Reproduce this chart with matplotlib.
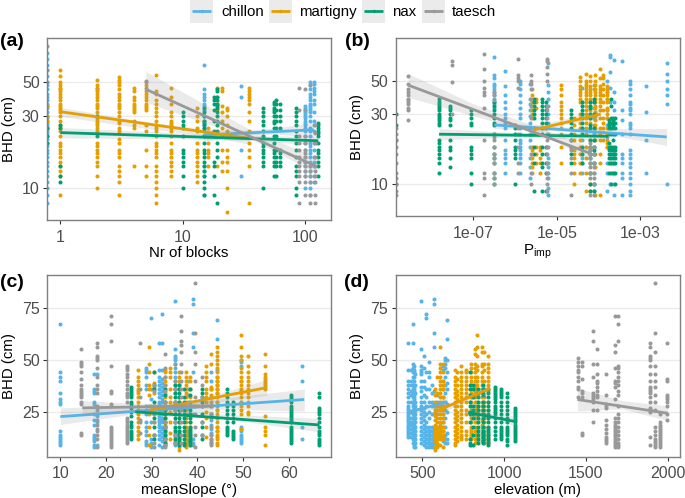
import matplotlib
matplotlib.use("Agg")
import matplotlib.pyplot as plt
from matplotlib.lines import Line2D
from matplotlib.patches import Rectangle

plt.rcParams['font.family'] = ['Liberation Sans', 'DejaVu Sans']
plt.rcParams['mathtext.fontset'] = 'custom'
plt.rcParams['mathtext.rm'] = 'Liberation Sans'

names = ['chillon', 'martigny', 'nax', 'taesch']
colors = {'chillon': '#56B4E9', 'martigny': '#E69F00', 'nax': '#009E73', 'taesch': '#999999'}

# ---- panel (a): Nr of blocks -> columns of BHD
a_chillon = {
 0.78: [8,9,10,11,12,13,14,15,16,17,18,19,20,21,22,23,24,25,26,27,28,29,30,32,34,35,36,38,40,42,45,48,50,55,60,65,71,78],
 15: [9,12,13,14,22,25,26,28,30,33,35,36,38,40,42,45,65],
 30: [12,18,40,47],
 100: [10,12,13,14,15,16,18,20,22,24,25,26,27,28,29,30,31,32,33,34,35],
 110: [9,10,11,12,13,14,15,16,17,18,19,20,22,24,25,28,30,32,33,34,35,36,38,40,42,45,48,50],
 118: [11,12,14,15,16,18,20,24,26,28,32,36,38,42,44,46,49,50],
}
a_martigny = {
 0.78: [25,28,30,35],
 1: [9,12,13,14,15,16,17,18,19,20,22,24,25,26,28,30,32,33,34,35,36,38,40,42,44,45,46,48,50,55,60],
 2: [10,12,14,15,16,17,18,19,20,24,25,26,27,28,29,32,34,35,36,38,40,42,44,45,46,48,52],
 3: [9,11,12,13,14,16,17,18,20,21,24,25,27,28,30,32,34,35,36,38,40,42,45,48,50,52,54],
 4: [14,25,26,28,32,33,34,35,36,38,40,44,46],
 5: [12,14,18,24,26,33,34,35,36,38,40,42,44,48],
 6: [8,9,10,11,12,13,14,16,17,18,19,20,22,24,25,26,28,30,32,34,36,38,42,44,56],
 8: [12,13,14,15,16,17,18,20,22,24,25,26,27,28,30,32,36,40,46],
 13: [11,12,13,14,15,16,17,18,20,24,25,28,30,34],
 16: [14,16,17,18,20,22,25],
 19: [14,46,40,36,33],
 21: [13,15,18,22,25,28,32,35,44,46],
 23: [7,10,13,15,16,18,22,24,26,30,33,34],
 35: [8,14,16,18,20,24,28,32,36,38,40,42,44,46],
}
a_nax = {
 0.78: [20,22,25],
 1: [11,12,14,25,26],
 2: [22,30],
 10: [10,12,14,15,16,17,18,22,25,26,28,30,32],
 15: [9,10,11,12,13,14,15,16,17,18,20,22,24,25,26,27,28,30,32,34],
 18: [9,12,14,15,24,28,33,36,38,40],
 19: [8,16,18,20,24,26,28,30,32,34,35,36,38,40,44,45],
 45: [10,14,15,16,17,18,19,20,22,24,26,28,30,32,34],
 56: [12,14,15,16,17,18,20,22,25,27,28,30,32,33,34,36,37],
 58: [12,14,15,16,18,22,25,28,30,33,36,38],
 62: [14,15,16,17,18,25,28,30,33,36],
 85: [9,10,12,13,14,16,18,20,22,24,26,28,30,32,34],
 128: [12,14,15,16,17,18,20,22,23,24,25,26,27],
}
a_taesch = {
 0.78: [87,60,50],
 5: [46,50,51],
 90: [8,11,12,13,14,15,16,18,20,22,33,46],
 100: [9,11,12,13,14,15,16,17,18,20,22,33,45],
 110: [8,9,11,12,13,14,48],
 120: [8,9,11,12,13,14,16,20,23,26],
}
a_lines = {'chillon': ([15,118],[22.5,24.3]), 'martigny': ([1,35],[32,21.4]),
           'nax': ([1,128],[23.3,20.6]), 'taesch': ([5,125],[45,13.9])}
a_bands = {'chillon': ([15,35,60,118],[20.5,22.6,22.8,21.5],[24.5,24.2,25.2,27.2]),
           'martigny': ([1,5,15,35],[29.8,24.8,22.4,19.5],[34.2,27.5,24.6,23.5]),
           'nax': ([1,8,40,128],[21.5,21.2,20.6,19.2],[25.2,23.4,22.2,22.0]),
           'taesch': ([5,15,37,125],[37,27,21,12.5],[59,36,24,16])}

# ---- panel (b): exponent of Pimp -> columns of BHD
b_chillon = {
 -6.5: [33,35,36,38,40,42,44,46,48,52,55,72],
 -6.24: [12,14,15,16,17,20,24,26,28,30,33,36,40,46,58],
 -5.88: [12,14,15,16,17,18,19,20,22,24,28,30,33,36,40,44,48,50],
 -5.65: [11,13,15,18,20,22,24,26,29,32,35,38,48],
 -5.2: [8.5,9.5,11,12,13,14,15,18,22,26,30,34,38,42,47,66],
 -4.4: [12,14,15,17,20,24,30,36,45],
 -4.1: [9,10,12,14,16,18,20,22,25,28,33,36,44,47],
 -3.8: [9,12,14,18,21,25,28,32,38,42,50],
 -3.72: [10,14,18,24,36,45,57,72,75],
 -3.63: [8.5,10,12,14,16,22,26,32,36,42,69],
 -3.45: [8.5,11,12,14,15,16,22,27,32,68],
 -3.25: [8.5,9,10,11,12,13,14,15,16,17,22,24,25,26,30,32,33,35,36,40,44,48,50],
 -2.87: [12,20,31,46],
 -2.37: [10,35,40,44,50,56,66],
}
b_martigny = {
 -5.6: [12,13,14,15,16,17,18,22,28,30,32,34,36,40,44],
 -5.5: [14,16,18,33,36,38],
 -5.4: [12,14,15,17,18],
 -4.9: [14,18,22,24,26,28,30,32,34,36,40,44,47],
 -4.6: [10,12,14,15,16,17,20,22,25,28],
 -4.45: [12,14,16,18,20,24,26,28,30,36,38,40,42,44,46,50,53],
 -4.3: [9,12,15,18,22,24,26,28,30,32,34,36,38,40,42,44,46,48,50,56],
 -4.2: [9,10,12,16,18,20,24,26,28,30,32,34,36,38,40,42,44,46,50,54],
 -4.08: [8.5,13,16,20,24,25,27,29,30,31,33,34,36,38,40,42,44,47,50,55],
 -3.97: [8.5,14,16,20,22,24,28,32,34,36,38,40,42,44,46,52,60],
 -3.8: [18,19,20,22,24,28,30,32,33,36,38,40,42,44,46],
 -3.9: [20,24,26,28,32,36,40,44,48,52,55],
}
b_nax = {
 -8.86: [10,20,25,30],
 -7.81: [12,14,15,16,17,18,19,20,25,26,27,28,29,30,32,33,34,35,36,38],
 -7.55: [13,15,17,18,20,25,27,28,30,32,33,34],
 -7.06: [10,12,15,16,17,18,25,26,28,30,32],
 -6.5: [10,11,12,14,15,16,18,22,25,26,28,30,32,34,36],
 -6.0: [10,15,16,17,18,20,22,24,25],
 -5.55: [9,14,16,18,24,28,30,32,34,36,38],
 -5.35: [9,13,14,16,18,22,24,26,28,30,32,34,36,38],
 -5.27: [9,12,14,16,18,24,26,28,30,32,34,36],
 -4.65: [14,16,18,20,22,24,26,28,30,32],
 -4.4: [14,16,18,22,24,26,28,30,32,34,36],
 -4.2: [9,10,12,14,15,16,17,18,20,24,25,28,30,33,34,36],
 -4.12: [9,10,14,16,17,18,20,24,30,36,38],
 -3.75: [12,14,15,16,17,18,19,22,24,25,26,27],
 -3.7: [10,12,14,15,16,17,18,22,24,26,28,34,38],
 -3.65: [12,14,15,16,17,18,20,22,24,25,26,27,28],
 -3.6: [10,12,14,15,16,17,18,22,24,26,28],
}
b_taesch = {
 -8.86: [8.5,9,10,11,12,14,16,18,20,22,24],
 -8.57: [27,32,33,35,36,37,38,40,42,44,48,54],
 -7.52: [30,49,64,68],
 -6.74: [8.5,11,12,20,33,40,42,45,50,60,76],
 -6.5: [10,11,12,14,15,16,18,20,21,22,37,40,42],
 -5.92: [12,14,18,22,24,45,50,52,55,70],
 -5.62: [10,12,16,28,34,38,44,48,50,55],
 -5.24: [9,10,11,12,14,16,18,20,22,28,32,34,50,56,62,68,70],
 -4.66: [8.5,12,15,17,18,20],
 -4.2: [8.5,11,12,13,14,15,16,17,18,19],
 -4.1: [8.5,10,11,12,13,14,16,18],
}
b_lines = {'chillon': ([-6.5,-2.37],[25.2,20.9]), 'martigny': ([-5.56,-3.95],[23.3,29.8]),
           'nax': ([-7.82,-3.77],[21.8,21.1]), 'taesch': ([-8.557,-4.205],[46.8,16.2])}
b_bands = {'chillon': ([-6.5,-5,-3.8,-2.37],[23.8,23,21.7,18.3],[26.6,24.5,23.8,23.8]),
           'martigny': ([-5.56,-4.8,-3.95],[21.6,25.4,27.3],[25.0,27.8,32.5]),
           'nax': ([-7.82,-6,-3.77],[20.0,20.8,19.9],[23.8,22.4,22.4]),
           'taesch': ([-8.557,-7,-5.3,-4.205],[38.7,29,21.5,14.5],[56,35,23.5,18])}

# ---- panel (c): meanSlope -> columns of BHD
c_chillon = {
 10: [9,10,11,12,13,14,16,29,30,31,34,40,42,44,67],
 17.3: [8,9,11,12,13,14,19,21,24,29,30,34,35,36,43],
 18: [9,20,23,43],
 28.8: [9,10,11,14,16,18,20,24,26,28,36,38,42,44,45,46],
 29.8: [8,9,10,12,20,25,28,31,36,70],
 31.5: [9,12,14,16,18,19,20,21,22,23,24,25,26,27,28,29,30,32,34,36,38,40,42,45,58],
 32.3: [8,11,13,15,17,18,20,21,22,24,26,28,30,31,33,35,37,39,41,45,58,72],
 35: [9,11,13,15,17,20,26,30,34,36,38,40,42,44,46,48,50,51,52,55,78],
 38: [11,14,16,24,27,30,33,36,40],
 39: [9,10,12,24,28,44,56,63,77,79],
 43: [10,11,12,15,17,19,21,24,32,36,40,44],
 44.3: [13,16,18,22,26,30,34,36,38,40,42,45,60,69],
 49.5: [10,11,12,13,14,16,17,18,30,35,40,47,49,50],
 63: [12,18,40,47],
}
c_martigny = {
 27: [12,14,16,18,20,22,24,26,28,30,32,34,35,36,38,40,42,45],
 29.5: [9,14,18,24,28,33,36,38,44,48,56],
 30.5: [14,20,24,28,34,37,39,44],
 33: [10,11,12,13,14,15,16,17,18,19,20,22,24,26,28,30,32,34,36,38,40,42,44,45],
 34: [12,15,20,25,30,32,36,42,44,46],
 36: [7,8,9,10,12,14,16,20,24,28,30,32,36,38,40,42,44],
 37.5: [8,9,10,11,12,13,14,15,16,17,18,20,22,24,26,28,30,32,34,36,38,40,42,44],
 38.5: [9,10,12,14,18,20,24,28,32,36,40,42],
 42: [13,18,22,25,30,32,34,36,40,42,44,47],
 43: [14,24,28,30,33,36,37,48,53],
 44.2: [9,10,12,14,16,18,20,22,24,26,28,30,32,34,36,38,40,42,44,46,48,50,52,54,56],
 49.5: [17,24,26,28,30,32,34,36,38,40,42,44,46,50,52,56,62],
 51: [24,25,28,30,32,34,36,38,40,42,44,47,52],
 54.8: [9,14,16,18,23,36,37,38,39,40,41,42,43,47,53],
}
c_nax = {
 25.5: [12,13,14,15,16,18,19,20,23,25,27,29,30,32,33,34,35,36,37],
 33: [9,10,12,14,16,18,20,22,24,26,28,30,33,36],
 35: [10,12,14,16,18,20,22,24,26,28,30,32,34,36,38],
 36: [9,10,11,12,13,14,15,16,18,20,22,24,26,28,30,32,34,36,38],
 37: [9,10,12,14,16,18,20,22,24,26,28,30,32,36],
 38.5: [9,10,11,12,13,14,15,16,17,18,20,22,24,26,28,30,33,36],
 41: [12,14,18,20,24,28,30,32,34,36],
 46.5: [14,15,16,17,18,20,22,24,26,28,30,32,34,36],
 47.8: [12,13,14,15,16,20,22,24,26,28,30],
 60.5: [10,11,12,13,14,15,16,17,18,20,21,22,23,24,25,26,27,28,30,31,32,33],
 66.7: [9,10,11,12,14,15,16,18,20,22,24,25,26,27,32,34],
 30.5: [12,14,18,22,26,30,36,38,44],
}
c_taesch = {
 14.5: [14,15,29,30,32,33,34,35,36,38,41,44,47,48,49,55],
 18: [8,12,14,16,17,19,21,24,26,28,34,36,38,42,46,50,51,52,56,58],
 21: [8,9,10,11,12,13,14,15,16,17,18,28,29,34,35,47,59,67,71],
 24.5: [10,11,12,13,14,15,16,17,18,19,20,21,22,30,32,33,34,36,38,40,42,43,45,46,47],
 27.5: [15,20,21,32,36,58],
 30.5: [8,10,14,20,24,26,28,35,38],
 33: [8,9,12,18,20,28,30,35,38,42,46,53],
 35: [10,14,20,26,30,36,40,48],
 36.5: [10,14,20,26,32,36,40,44,48,54,57,59,64,71],
 39.5: [8,14,18,24,28,32,40,48,54,63,87],
 41: [14,20,28,32,38,42],
 43: [9,10,12,14,18,22,24,28],
}
c_lines = {'chillon': ([10,63.4],[22.8,31]), 'martigny': ([29.4,55.2],[25.8,36.7]),
           'nax': ([26.4,66.7],[25.1,18.8]), 'taesch': ([14.8,43.5],[27,28])}
c_bands = {'chillon': ([10,35,63.4],[19,26.8,25.5],[27,29,36]),
           'martigny': ([29.4,40,55.2],[24,28.5,33],[27.6,31,40.5]),
           'nax': ([26.4,45,66.7],[23.5,22,15.5],[26.8,24,22]),
           'taesch': ([14.8,28,43.5],[23.5,26,24.5],[30.5,29,31.5])}

# ---- panel (d): elevation -> columns of BHD
d_chillon = {
 415: [13,14,15,16,17,18,19,20,21,22,23,24,25,26,27,28,30,32,34,36,38,40,45,58],
 430: [13,15,17,19,20,22,25,30,33,35,38,40,45],
 445: [10,12,14,16,18,20,22,24,26,28,30,32,34,36,38,40,42,44,46,48,58,67],
 452: [8,9,10,11,12,13,14,15,16,17,18,19,20,21,22,23,24,25,26,27,28,29,30,31,32,33,34,35,36,37,38,40,42,44,45,47],
 458: [8,10,12,14,16,18,20,22,24,26,28,30,34,38,43],
 495: [10,12,14,16,18,20,22,24,26,28,30,32,35,37,40,43,44,45,47,55,78],
 510: [9,11,13,15,17,19,21,23,25,27,30,33,37,40,46,52],
 522: [8,10,12,14,16,18,20,24,28,32,36,44,70,72],
 540: [8,9,10,11,12,13,14,15,16,17,18,22,25,30,36,42,44,49],
 560: [8,9,10,12,14,16,18,24,28,30,34,38],
 572: [8,10,11,13,15,17,28,35,56,63,77,79],
 590: [9,12,14,16,18,26,30,33],
 625: [11,13,16,20,24,28,32,36,40,45,47],
 640: [10,12,14,18,22,26,30,34,38,42,46,48,50,51],
 652: [10,12,15,25,29,36,39,44,50,60,69],
}
d_martigny = {
 575: [7,8,11,13,15,17,19,21,23,24,25,26,28,30,33,36],
 590: [8,10,12,13,14,15,16,18,20,22,24,26,28,34,42],
 610: [9,12,13,14,15,16,17,18,19,20,22,24,26,28,30,32,34,36,38,40,42,44,46,48,56],
 625: [8,12,14,16,18,20,22,24,26,28,30,32,36,38,40,44,48],
 700: [9,10,12,14,16,18,20,22,24,26,28,30,32,34,36,38,40,42,45],
 715: [11,13,15,17,19,21,23,25,28,31,33,35,38,41,44],
 735: [12,13,14,16,18,20,22,24,26,28,30,32,34,36,38,40,42,44,47],
 770: [12,14,16,20,24,26,30,32,34,36,38,40,42,44,45],
 800: [9,12,13,14,15,16,17,18,20,22,24,26,28,30,32,34,36,38,40,42,44,46,48],
 820: [10,12,14,16,18,20,22,24,26,28,30,32,33,34,35,36,37,38,40,42,44,46,48,53,55],
 835: [11,13,15,17,20,23,25,27,30,33,36,38,40,42,45,47,52,56,62],
 865: [11,13,15,17,19,21,24,26,28,30,32,34,36,38,40,42,44,47,48,54,56],
 880: [10,12,14,16,18,20,22,24,26,28,30,32,36,40,45,48,54],
 900: [10,12,14,18,22,26,30,35,36,38,40,42,44,46,48,52],
}
d_nax = {
 790: [9,10,12,20,24,25,28,30,33,36,38,44],
 810: [9,14,18,22,24,26,28,32,36,38],
 840: [10,12,14,16,18,20,22,24,26,28,30,32,34,36],
 870: [10,11,12,13,14,15,16,18,20,22,24,26,28,30,33,34,36,38],
 900: [9,10,11,12,13,14,15,16,17,18,20,22,24,26,28,30,32,34,36],
 945: [12,14,16,18,20,22,24,25,26,27,28,30,31,32,33,34,35,36,37],
 980: [12,13,14,15,16,17,18,20,22,24,26,28,30,32,33,34,35,36],
 1020: [9,11,12,14,15,16,17,18,20,22,24,26,28,30,32,34],
 1065: [11,12,13,14,15,16,17,18,19,20,21,22,23,24,25,26,27],
}
d_taesch = {
 1450: [32,36,37,40,42,44,45,47,49,51],
 1475: [14,15,32,34,35,41,47,49],
 1545: [20,26,30,31,32,33,34,42,48,59,64],
 1570: [26,32,33,35,37,39,40,43,48,55],
 1625: [10,11,12,13,15,17,19,21,27,28,29,33,43],
 1675: [8,9,10,11,12,13,14,15,16,17,18,19,20,22,31,37,39,40,46,54,57,71],
 1695: [8,9,10,12,14,16,18,20,22,24,28,33,35,38,40,42,44,46,47,59,67,71],
 1890: [9,13,25,26,27,30,32,34,35,36,37,40,43,47,50,51,52,56,58],
 1925: [8,9,10,11,12,14,16,18,26,30,33,37,40,43,47,54,63,87],
 1955: [8,9,10,11,12,13,14,15,16,17,18,19,20,24],
 1998: [21,24,28,30,31,32,33,40,41,58],
}
d_lines = {'chillon': ([414,653],[25,29.8]), 'martigny': ([573,914],[25,36.3]),
           'nax': ([781,1071],[24.8,20.4]), 'taesch': ([1448,2000],[31,24.4])}
d_bands = {'chillon': ([414,530,653],[23.5,26,26.5],[26.5,28,33]),
           'martigny': ([573,750,914],[23,29.5,33.5],[27,32,39]),
           'nax': ([781,930,1071],[22.5,21.8,18],[27,24.2,23]),
           'taesch': ([1448,1720,2000],[25.5,26.5,21],[36.5,30.5,28])}

W, H = 685, 498
fig = plt.figure(figsize=(W/100, H/100), dpi=100)

def make_ax(l, r, t, b):
    ax = fig.add_axes([l/W, 1-b/H, (r-l)/W, (b-t)/H])
    ax.set_axisbelow(True)
    for s in ax.spines.values():
        s.set_color('#7f7f7f'); s.set_linewidth(1.0)
    ax.tick_params(axis='both', which='major', length=3, width=0.8, color='#333333',
                   labelcolor='#4d4d4d', labelsize=11.5, pad=2.5)
    ax.tick_params(axis='x', which='major', pad=4)
    ax.tick_params(axis='both', which='minor', length=0)
    ax.grid(axis='y', which='major', color='#ebebeb', lw=1.0)
    ax.grid(axis='x', visible=False)
    return ax

def draw(ax, cols, lines, bands, xf=lambda v: v):
    for name, col in zip(names, cols):
        xs, ys = [], []
        for x, vals in col.items():
            xs += [xf(x)] * len(vals); ys += vals
        ax.scatter(xs, ys, s=8.5, color=colors[name], linewidths=0, zorder=2)
    for i, name in enumerate(names):
        bx, lo, hi = bands[name]
        ax.fill_between([xf(v) for v in bx], lo, hi, color='#999999', alpha=0.2, lw=0, zorder=3+i*.1)
        lx, ly = lines[name]
        ax.plot([xf(v) for v in lx], ly, color=colors[name], lw=2.0, solid_capstyle='butt', zorder=3+i*.1+.05)

XL = dict(fontsize=10.8, labelpad=1.0, color='black')
YL = dict(fontsize=10.8, labelpad=4.5, color='black')

# (a)
axa = make_ax(47.3, 331, 37.7, 220)
draw(axa, [a_chillon, a_martigny, a_nax, a_taesch], a_lines, a_bands)
axa.set_xscale('log'); axa.set_yscale('log')
axa.set_xlim(0.783, 163); axa.set_ylim(6.18, 98.5)
axa.set_xticks([1, 10, 100]); axa.set_xticklabels(['1', '10', '100'])
axa.set_yticks([10, 30, 50]); axa.set_yticklabels(['10', '30', '50'])
axa.set_xlabel('Nr of blocks', **XL)
axa.set_ylabel('BHD (cm)', **YL)

# (b)
axb = make_ax(395.7, 680, 37.7, 216)
draw(axb, [b_chillon, b_martigny, b_nax, b_taesch], b_lines, b_bands, xf=lambda v: 10.0**v)
axb.set_xscale('log'); axb.set_yscale('log')
axb.set_xlim(10**-8.859, 10**-2.05); axb.set_ylim(6.1, 98)
axb.set_xticks([1e-7, 1e-5, 1e-3]); axb.set_xticklabels(['1e-07', '1e-05', '1e-03'])
axb.set_yticks([10, 30, 50]); axb.set_yticklabels(['10', '30', '50'])
axb.set_xlabel(r'$\mathrm{P}_{\mathrm{imp}}$', **XL)
axb.set_ylabel('BHD (cm)', **YL)

# (c)
axc = make_ax(47.3, 331, 275, 456.7)
draw(axc, [c_chillon, c_martigny, c_nax, c_taesch], c_lines, c_bands)
axc.set_xlim(7.15, 69.26); axc.set_ylim(3.57, 90.7)
axc.set_xticks([10, 20, 30, 40, 50, 60]); axc.set_yticks([25, 50, 75])
axc.set_xlabel('meanSlope (°)', **XL)
axc.set_ylabel('BHD (cm)', **YL)

# (d)
axd = make_ax(395.7, 680, 275, 456.7)
draw(axd, [d_chillon, d_martigny, d_nax, d_taesch], d_lines, d_bands)
axd.set_xlim(337.4, 2075); axd.set_ylim(3.57, 90.7)
axd.set_xticks([500, 1000, 1500, 2000]); axd.set_yticks([25, 50, 75])
axd.set_xlabel('elevation (m)', **XL)
axd.set_ylabel('BHD (cm)', **YL)

# panel tags
for tag, px, py in [('(a)', 0, 42), ('(b)', 345, 42), ('(c)', 0, 282), ('(d)', 344, 282)]:
    fig.text(px/W, 1-py/H, tag, fontsize=14, fontweight='bold', color='black', ha='left', va='center')

# legend drawn as figure artists
for name, kx, tx in [('chillon', 190, 221), ('martigny', 268.5, 299), ('nax', 362, 392), ('taesch', 422, 452)]:
    fig.add_artist(Rectangle((kx/W, 1-23/H), 23/W, 23/H, transform=fig.transFigure,
                             facecolor='#ebebeb', edgecolor='none'))
    fig.add_artist(Line2D([(kx+2)/W, (kx+21)/W], [1-11.5/H]*2, transform=fig.transFigure,
                          color=colors[name], lw=2.0, solid_capstyle='butt'))
    fig.add_artist(Line2D([(kx+11.5)/W], [1-11.5/H], transform=fig.transFigure, marker='o', ms=2.5,
                          mew=0, color=colors[name]))
    fig.text(tx/W, 1-12/H, name, fontsize=10.8, color='black', ha='left', va='center')

fig.savefig('out.png', dpi=100)
